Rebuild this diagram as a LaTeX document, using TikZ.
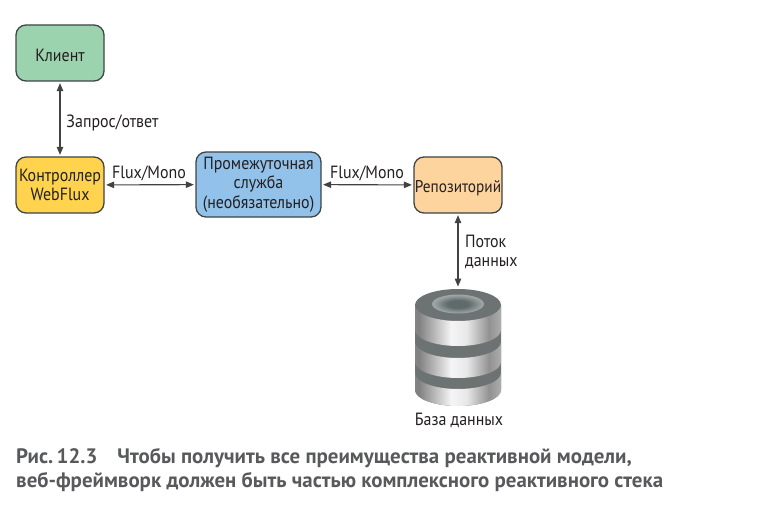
\documentclass[tikz,border=0pt]{standalone}
\usepackage{fontspec}
\setmainfont[FakeStretch=0.9]{PT Sans}
\newfontfamily\capfont{PT Sans}
\usetikzlibrary{arrows.meta}
\definecolor{inkcol}{HTML}{231F20}
\definecolor{edgecol}{HTML}{3F4545}
\definecolor{captioncol}{HTML}{58595B}
\definecolor{clientcol}{HTML}{9BD3AE}
\definecolor{ctrlcol}{HTML}{FFD34E}
\definecolor{servicecol}{HTML}{92C1E9}
\definecolor{repocol}{HTML}{FDD49E}
\definecolor{dbdark}{HTML}{6D7272}
\definecolor{dbhublight}{HTML}{A0A6A6}
\definecolor{dbhubdark}{HTML}{5F6A6A}
\pgfdeclarehorizontalshading{dbmetal}{100bp}{
	color(0bp)=(black!50); color(10bp)=(black!35); color(27bp)=(black!50);
	color(46bp)=(black!4); color(55bp)=(black!9); color(68bp)=(black!43);
	color(86bp)=(black!15); color(100bp)=(black!34)}
\pgfdeclareradialshading{dbhub}{\pgfpoint{0bp}{0bp}}{
	color(0bp)=(dbhubdark); color(10bp)=(dbhubdark); color(24bp)=(dbhublight);
	color(50bp)=(dbdark)}
\tikzset{
	box/.style={draw=edgecol, line width=1.3pt, rounded corners=10pt, minimum width=88pt,
		minimum height=56pt, inner sep=0pt, align=center, text=inkcol, font=\fontsize{17.7}{19.5}\selectfont,
		execute at begin node={\rule{0pt}{18pt}}},
	lbl/.style={inner sep=0pt, text=inkcol, align=left, font=\fontsize{17.7}{19.5}\selectfont},
	link/.style={{Triangle[length=8pt,width=6.5pt]}-{Triangle[length=8pt,width=6.5pt]}, line width=1.1pt, draw=inkcol!85, shorten >=1.5pt, shorten <=1.5pt},
	caption/.style={inner sep=0pt, anchor=west, text=captioncol, font=\fontsize{20.9}{24}\selectfont\capfont\bfseries}
}
% one lit band of the stack, from y #1 to y #2
\newcommand{\dbband}[2]{
	\shade[shading=dbmetal] (415,#1) arc[start angle=180, end angle=360, x radius=43pt, y radius=16pt]
		-- (501,#2) arc[start angle=360, end angle=180, x radius=43pt, y radius=16pt] -- cycle;
}
\begin{document}
\begin{tikzpicture}[x=1pt,y=-1pt]
	\useasboundingbox (0,0) rectangle (767,513);
	\node[box, fill=clientcol] (client) at (60,53) {Клиент};
	\node[box, fill=ctrlcol] (ctrl) at (60,185) {Контроллер\\WebFlux};
	\node[box, fill=servicecol, minimum width=125pt, minimum height=65pt] (service) at (258.5,184.5) {Промежуточная\\служба\\(необязательно)};
	\node[box, fill=repocol, font=\fontsize{17}{19.5}\selectfont] (repo) at (458,185) {Репозиторий};
	\coordinate (dbtop) at (458,288);

	\draw[link] (client) -- (ctrl);
	\draw[link] (ctrl) -- (service);
	\draw[link] (service) -- (repo);
	\draw[link] (repo) -- (dbtop);

	\node[lbl] (reqlbl) at (112.5,123) {Запрос/ответ};
	\node[lbl] (fluxa) at (149,173) {Flux/Mono};
	\node[lbl] (fluxb) at (367,173) {Flux/Mono};
	\node[lbl, anchor=north west] (streamlbl) at (465,234.5) {Поток\\данных};

	% database
	\fill[dbdark] (415,305) arc[start angle=180, end angle=0, x radius=43pt, y radius=16pt]
		-- (501,390) arc[start angle=360, end angle=180, x radius=43pt, y radius=16pt] -- cycle;
	\dbband{305}{330}
	\dbband{342}{362}
	\dbband{373}{390}
	\shade[shading=dbhub] (458,304) ellipse (26pt and 9.5pt);
	\node[lbl] (dblbl) at (459,420) {База данных};

	\node[caption] (capa) at (16,458) {Рис.\,12.3\hspace{20pt}Чтобы получить все преимущества реактивной модели,};
	\node[caption] (capb) at (16,482) {веб-фреймворк должен быть частью комплексного реактивного стека};
\end{tikzpicture}
\end{document}
